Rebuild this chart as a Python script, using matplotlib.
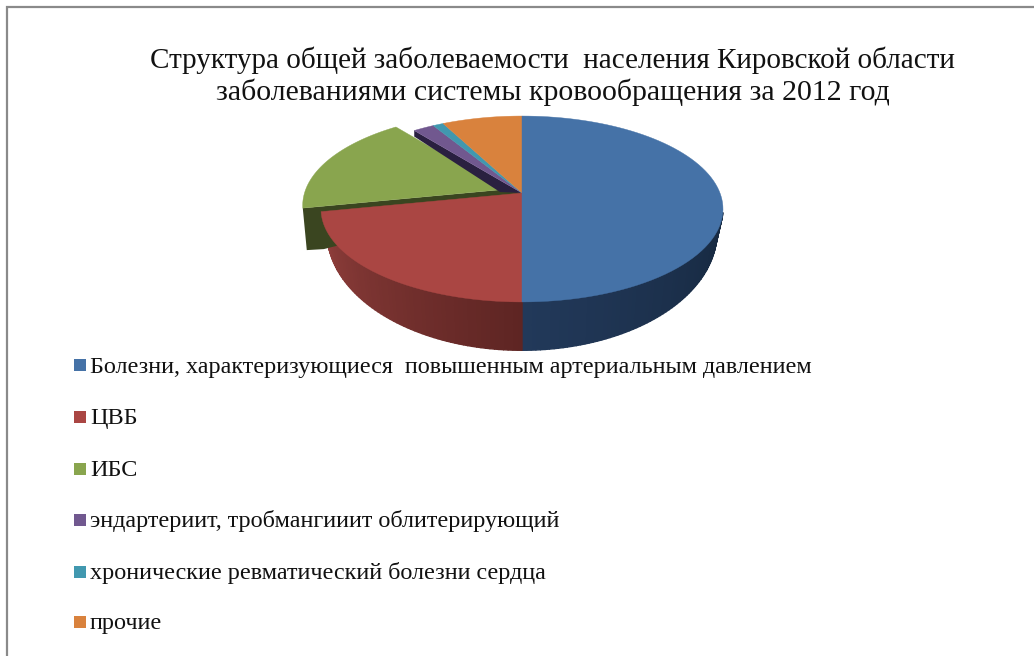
import numpy as np
import matplotlib
matplotlib.use("Agg")
import matplotlib.pyplot as plt
from matplotlib.patches import Polygon, Rectangle

plt.rcParams['font.family'] = ['Liberation Serif', 'DejaVu Serif']

title_lines = ["Структура общей заболеваемости  населения Кировской области",
               "заболеваниями системы кровообращения за 2012 год"]
categories = ["Болезни, характеризующиеся  повышенным артериальным давлением",
              "ЦВБ",
              "ИБС",
              "эндартериит, тробмангииит облитерирующий",
              "хронические ревматический болезни сердца",
              "прочие"]
shares = [50.0, 21.8, 17.6, 2.0, 1.0, 7.6]
colors = ["#4572A7", "#AA4643", "#89A54E", "#71588F", "#4198AF", "#D9823D"]
side_colors = ["#1E3552", "#8F3F3C", "#3A4520", "#2A2040", "#2A6070", "#8A5020"]
exploded = [False, False, True, False, False, False]

# pie geometry in pixels, with a projective tilt so the far half looks shorter
CX = 522
TOP_Y = 193
BOT_Y = 212
TOP_RX, TOP_RY = 198, 90.2
BOT_RX, BOT_RY = 192, 114.5
K = 0.172
EXPLODE = 19.5


def rim(angle, cx, cy, rx, ry):
    # angle is measured in degrees from 12 o'clock, clockwise
    a = np.radians(angle)
    u, v = np.sin(a), np.cos(a)
    w = 1 + K * v
    return cx + rx * u / w, cy - ry * v / w


def arc(a0, a1, cx, cy, rx, ry, n=80):
    return np.column_stack(rim(np.linspace(a0, a1, n), cx, cy, rx, ry))


def shade(c0, c1, t):
    c0 = np.array(matplotlib.colors.to_rgb(c0))
    c1 = np.array(matplotlib.colors.to_rgb(c1))
    return c0 + (c1 - c0) * t


fig = plt.figure(figsize=(10.34, 6.56), dpi=100)
ax = fig.add_axes([0, 0, 1, 1])
ax.set_xlim(0, 1034)
ax.set_ylim(656, 0)
ax.axis('off')

# chart frame: only the top and left edges fall inside the canvas
ax.plot([7, 7, 1034], [656, 7, 7], color='#8A8A8A', lw=1.6, solid_joinstyle='miter')

edges = np.cumsum([0] + shares) * 3.6

# outer wall, drawn as narrow quads for the gradient
for a0, a1, c_far, c_near in [(102, 180, "#16283F", "#22395A"),
                              (180, 258, "#5E2523", "#93403D")]:
    steps = np.linspace(a0, a1, 70)
    for i in range(len(steps) - 1):
        s0, s1 = steps[i], steps[i + 1]
        upper = arc(s0, s1, CX, TOP_Y, TOP_RX, TOP_RY, 2)
        lower = arc(s1, s0, CX, BOT_Y, BOT_RX, BOT_RY, 2)
        t = (s0 - a0) / (a1 - a0)
        ax.add_patch(Polygon(np.vstack([upper, lower]), closed=True, lw=1.0,
                             color=shade(c_far, c_near, t)))

# wedges back to front; the far ones need their dark cut faces first
for i in [2, 3, 4, 5, 1, 0]:
    a0, a1 = edges[i], edges[i + 1]
    dx, dy = 0, 0
    if exploded[i]:
        mid = np.radians((a0 + a1) / 2)
        dx, dy = EXPLODE * np.sin(mid), 4.5 * -np.cos(mid) - 2
    if i == 2:
        # wall and cut face of the pulled-out wedge
        lx, ly = rim(a0, CX + dx, TOP_Y + dy, TOP_RX, TOP_RY)
        ax.add_patch(Polygon([(lx, ly), (lx + 4, ly + 42), (lx + 21, ly + 41), (CX, TOP_Y + 6),
                              (CX, TOP_Y), (CX + dx, TOP_Y + dy)],
                             closed=True, lw=0, color=side_colors[2]))
    if i == 3:
        sx, sy = rim(a0, CX, TOP_Y, TOP_RX, TOP_RY)
        ax.add_patch(Polygon([(sx, sy), (sx, sy + 6), (CX - 22, TOP_Y - 1), (CX, TOP_Y)],
                             closed=True, lw=0, color=side_colors[3]))
    pts = np.vstack([[CX + dx, TOP_Y + dy], arc(a0, a1, CX + dx, TOP_Y + dy, TOP_RX, TOP_RY)])
    ax.add_patch(Polygon(pts, closed=True, lw=0.3, color=colors[i], ec=colors[i]))

# title
ax.text(552.5, 68, title_lines[0], fontsize=21.0, ha='center', va='baseline', color='#111111')
ax.text(553, 100, title_lines[1], fontsize=21.5, ha='center', va='baseline', color='#111111')

# legend
legend_y = [365, 416.5, 468.5, 519.5, 572, 622]
for name, c, y in zip(categories, colors, legend_y):
    ax.add_patch(Rectangle((74, y - 6), 12, 12, lw=0, color=c))
    ax.text(90, y + 7.5, name, fontsize=17.35, ha='left', va='baseline', color='#111111')

fig.savefig("out.png", dpi=100)
